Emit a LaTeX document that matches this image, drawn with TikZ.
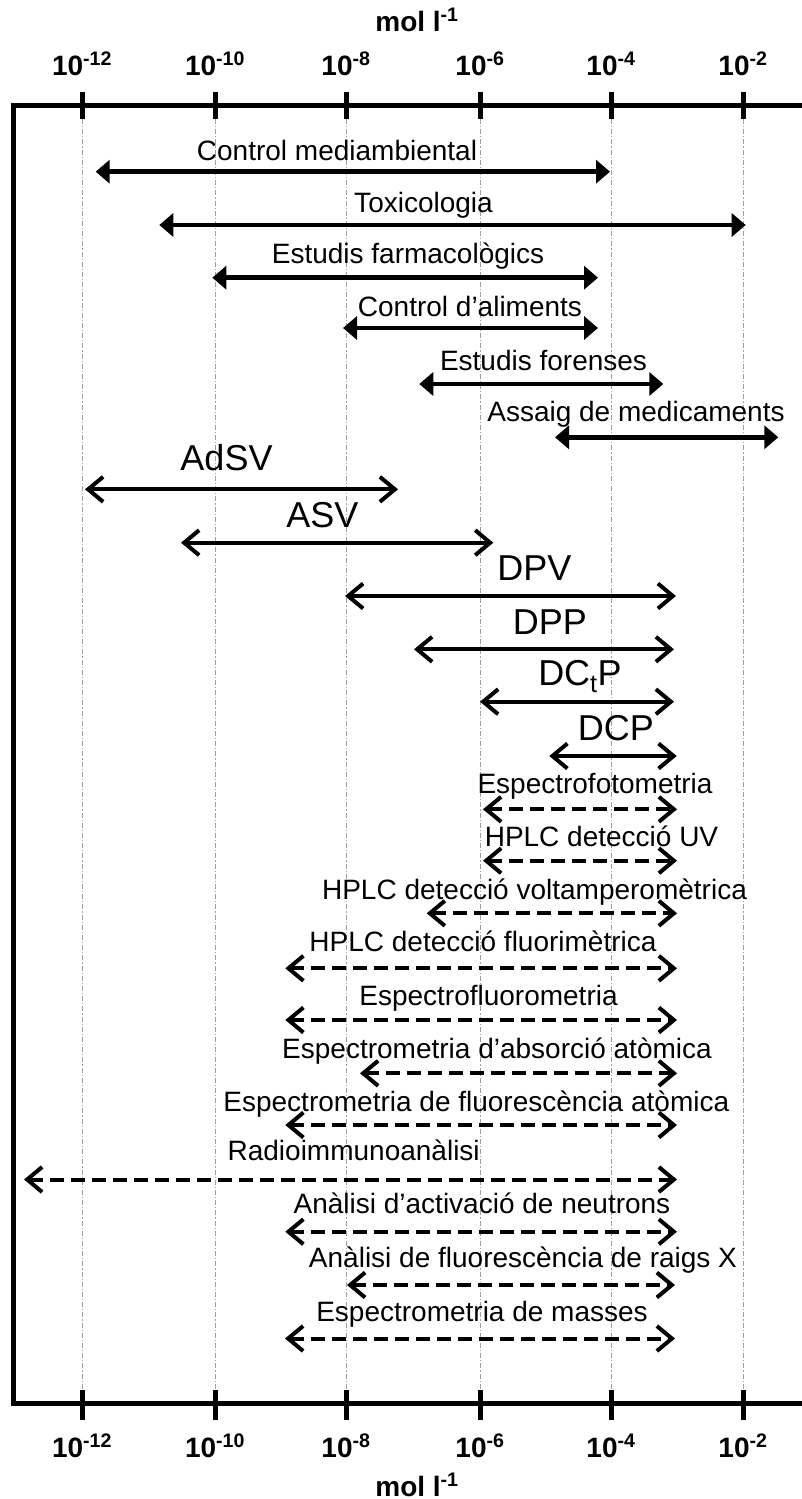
\documentclass[tikz,border=0pt]{standalone}
\usepackage{fontspec}
\setmainfont{Liberation Sans}
\usetikzlibrary{arrows.meta}
\tikzset{
  gridline/.style={gray!75, line width=1pt, dash pattern=on 5pt off 2pt on 1.2pt off 2pt},
  framestroke/.style={line width=5pt, line join=miter},
  tickmark/.style={line width=5pt},
  field/.style={line width=4.5pt, {Triangle[length=14pt,width=23pt]}-{Triangle[length=14pt,width=23pt]}},
  tech/.style={line width=4pt, {Straight Barb[length=15pt,width=25pt]}-{Straight Barb[length=15pt,width=25pt]}},
  techdash/.style={tech, dash pattern=on 14pt off 7pt},
  lab/.style={inner sep=0pt, font=\fontsize{28}{32}\selectfont},
  biglab/.style={inner sep=0pt, font=\fontsize{36}{40}\selectfont},
  axislab/.style={inner sep=0pt, font=\bfseries\fontsize{28}{32}\selectfont},
}
\newcommand\rangebar[9]{%
  \coordinate (#1-l) at (#2,#4);
  \coordinate (#1-r) at (#3,#4);
  \draw[#5] (#1-l) -- (#1-r);
  \node[#8, anchor=base] (#1-t) at (#6,#7) {#9};
}
\begin{document}
\begin{tikzpicture}[x=1pt,y=-1pt]
\useasboundingbox (0,0) rectangle (802,1499);
% grid, ticks and tick labels
\foreach \x/\e [count=\i] in {82/-12,215/-10,346/-8,480/-6,611/-4,743/-2}{
  \draw[gridline] (\x,119) -- (\x,1390);
  \draw[tickmark] (\x,92) -- (\x,119);
  \draw[tickmark] (\x,1390) -- (\x,1420);
  \node[axislab, anchor=base] (tt\i) at (\x,75) {10\textsuperscript{\e}};
  \node[axislab, anchor=base] (bt\i) at (\x,1457) {10\textsuperscript{\e}};
}
% frame
\draw[framestroke] (802,105) -- (13.5,105) -- (13.5,1403.5) -- (802,1403.5);
\node[axislab, anchor=base] (toptitle) at (417,31) {mol l\textsuperscript{-1}};
\node[axislab, anchor=base] (bottitle) at (417,1496) {mol l\textsuperscript{-1}};
% fields of application
\rangebar{cm}{95.7}{610}{171.7}{field}{337}{160}{lab}{Control mediambiental}
\rangebar{tox}{159.3}{745.7}{225}{field}{423.5}{212.7}{lab}{Toxicologia}
\rangebar{far}{212.3}{598}{277.7}{field}{408}{263}{lab}{Estudis farmacològics}
\rangebar{ali}{343}{598}{328}{field}{470}{316}{lab}{Control d’aliments}
\rangebar{for}{419.3}{663.3}{384}{field}{543.5}{370}{lab}{Estudis forenses}
\rangebar{ass}{555}{778.3}{437.3}{field}{636}{421.7}{lab}{Assaig de medicaments}
% voltammetric techniques
\rangebar{adsv}{85}{398}{489.3}{tech}{226.5}{470.7}{biglab}{AdSV}
\rangebar{asv}{181}{493.3}{542.7}{tech}{322.3}{527.3}{biglab}{ASV}
\rangebar{dpv}{345}{676}{596}{tech}{534.5}{580}{biglab}{DPV}
\rangebar{dpp}{414}{674}{649.3}{tech}{550}{634}{biglab}{DPP}
\rangebar{dctp}{480}{674}{701.7}{tech}{580}{685}{biglab}{DC\textsubscript{t}P}
\rangebar{dcp}{549.3}{676.7}{756}{tech}{615.8}{740.7}{biglab}{DCP}
% other techniques
\rangebar{esf}{483}{677}{809.3}{techdash}{595}{793}{lab}{Espectrofotometria}
\rangebar{huv}{483}{677}{860.7}{techdash}{601.5}{846}{lab}{HPLC detecció UV}
\rangebar{hvo}{426.7}{677}{913.3}{techdash}{534.5}{899.3}{lab}{HPLC detecció voltamperomètrica}
\rangebar{hfl}{285.3}{677}{968.3}{techdash}{483}{951.7}{lab}{HPLC detecció fluorimètrica}
\rangebar{efl}{285.3}{677}{1020}{techdash}{488.5}{1005}{lab}{Espectrofluorometria}
\rangebar{eaa}{360}{677}{1073.3}{techdash}{497}{1058.3}{lab}{Espectrometria d’absorció atòmica}
\rangebar{efa}{285.3}{677}{1125}{techdash}{476.3}{1111.7}{lab}{Espectrometria de fluorescència atòmica}
\rangebar{ria}{24}{677}{1179.5}{techdash}{353.7}{1160}{lab}{Radioimmunoanàlisi}
\rangebar{aan}{285.3}{677}{1231.7}{techdash}{482}{1213.3}{lab}{Anàlisi d’activació de neutrons}
\rangebar{afx}{347}{675}{1285}{techdash}{523}{1267.3}{lab}{Anàlisi de fluorescència de raigs X}
\rangebar{ems}{285}{675}{1338.5}{techdash}{482}{1321.7}{lab}{Espectrometria de masses}
\end{tikzpicture}
\end{document}
